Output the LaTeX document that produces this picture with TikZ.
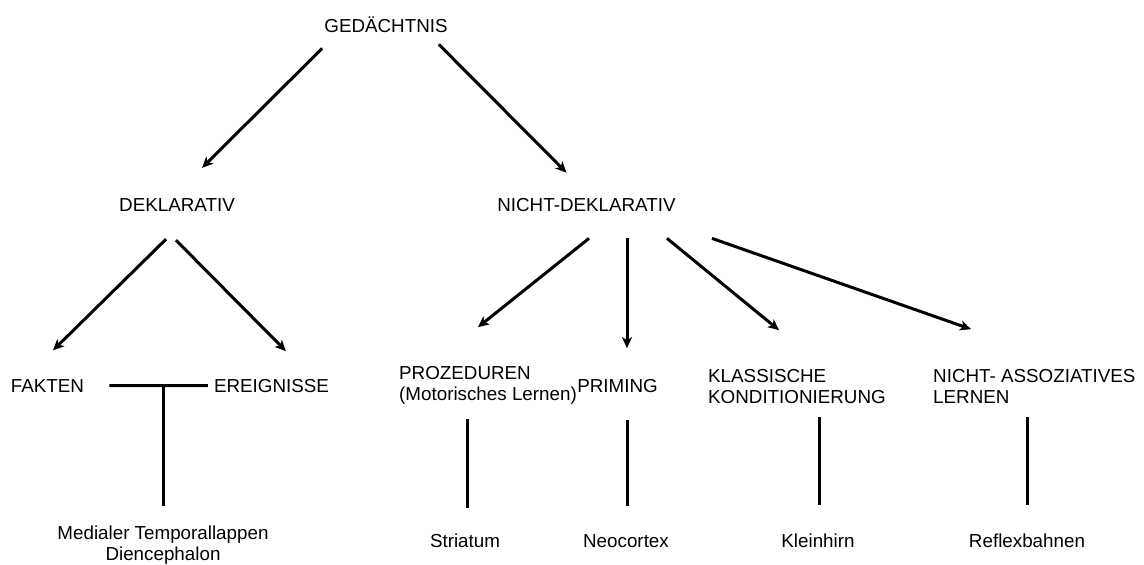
\documentclass[tikz,border=0pt]{standalone}
\usepackage{fontspec}
\setmainfont{Liberation Sans}
\usetikzlibrary{arrows.meta}

\begin{document}
\begin{tikzpicture}[x=1pt,y=-1pt]
\tikzset{begriff/.style={inner sep=0pt, anchor=base, font=\fontsize{18.8}{21}\selectfont},
  links/.style={begriff, anchor=base west, align=left},
  pfeil/.style={line width=3pt, -{Stealth[length=11pt,width=10pt,inset=3pt]}},
  linie/.style={line width=3pt}}
\useasboundingbox (0,0) rectangle (1144,565);
\node[begriff] (ged) at (386,32) {GEDÄCHTNIS};
\node[begriff] (dekl) at (177,211) {DEKLARATIV};
\node[begriff] (ndekl) at (586.5,211) {NICHT-DEKLARATIV};
\node[begriff] (fakt) at (47.5,392) {FAKTEN};
\node[begriff] (ereig) at (271.5,392) {EREIGNISSE};
\node[links] (proz) at (399,400) {PROZEDUREN\\(Motorisches Lernen)};
\node[begriff] (prim) at (617.5,392) {PRIMING};
\node[links] (klass) at (708,403) {KLASSISCHE\\KONDITIONIERUNG};
\node[links] (nass) at (933,403) {NICHT- ASSOZIATIVES\\LERNEN};
\node[begriff, align=center] (medial) at (163,560) {Medialer Temporallappen\\Diencephalon};
\node[begriff] (striat) at (465,547) {Striatum};
\node[begriff] (neo) at (626,547) {Neocortex};
\node[begriff] (klein) at (818,547) {Kleinhirn};
\node[begriff] (refl) at (1027,547) {Reflexbahnen};
\coordinate (tee) at (163,385);
\draw[pfeil] ([xshift=-2pt,yshift=-16pt]ged.south west) -- ([xshift=25pt,yshift=30pt]dekl.north);
\draw[pfeil] ([xshift=-9pt,yshift=-12pt]ged.south east) -- ([xshift=-20pt,yshift=25pt]ndekl.north);
\draw[pfeil] ([xshift=-11pt,yshift=-28pt]dekl.south) -- ([xshift=5.5pt,yshift=28.5pt]fakt.north);
\draw[pfeil] ([xshift=-1pt,yshift=-29pt]dekl.south) -- ([xshift=14.5pt,yshift=27.5pt]ereig.north);
\draw[linie] ([xshift=25pt]fakt.east) -- ([xshift=-6pt]ereig.west);
\draw[linie] (tee) -- ([yshift=19pt]medial.north);
\draw[pfeil] ([xshift=2.5pt,yshift=-27pt]ndekl.south) -- ([xshift=79pt,yshift=38.5pt]proz.north west);
\draw[pfeil] ([xshift=40.5pt,yshift=-27pt]ndekl.south) -- ([xshift=9.5pt,yshift=30.5pt]prim.north);
\draw[pfeil] ([xshift=80.5pt,yshift=-27pt]ndekl.south) -- ([xshift=71pt,yshift=38.5pt]klass.north west);
\draw[pfeil] ([xshift=125.5pt,yshift=-27pt]ndekl.south) -- ([xshift=38pt,yshift=39.5pt]nass.north west);
\draw[linie] ([xshift=68pt,yshift=-15pt]proz.south west) -- ([xshift=2pt,yshift=25pt]striat.north);
\draw[linie] ([xshift=9.5pt,yshift=-28pt]prim.south) -- ([xshift=1pt,yshift=27.5pt]neo.north);
\draw[linie] ([xshift=111pt,yshift=-14pt]klass.south west) -- ([xshift=1pt,yshift=28.5pt]klein.north);
\draw[linie] ([xshift=94pt,yshift=-14pt]nass.south west) -- ([yshift=28pt]refl.north);
\end{tikzpicture}
\end{document}
